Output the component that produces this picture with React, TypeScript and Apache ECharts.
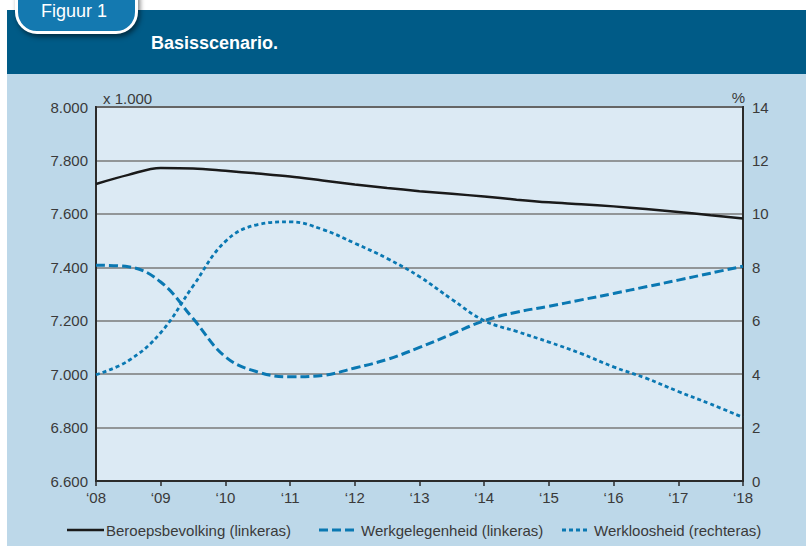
import React, { useEffect, useRef } from "react";
import * as echarts from "echarts";

const years = [2008, 2008.5, 2009, 2009.5, 2010, 2010.5, 2011, 2011.5, 2012, 2012.5, 2013, 2013.5, 2014, 2014.5, 2015, 2015.5, 2016, 2016.5, 2017, 2017.5, 2018];
const beroepsbevolking = [7712, 7746, 7772, 7770, 7761, 7751, 7740, 7725, 7710, 7697, 7685, 7675, 7665, 7653, 7643, 7636, 7628, 7618, 7607, 7595, 7583];
const werkgelegenheid = [7408, 7402, 7345, 7208, 7065, 7008, 6990, 6995, 7023, 7055, 7100, 7150, 7200, 7232, 7254, 7278, 7302, 7327, 7352, 7378, 7404];
const werkloosheid = [3.98, 4.5, 5.55, 7.3, 8.97, 9.6, 9.7, 9.42, 8.9, 8.33, 7.65, 6.8, 6.0, 5.6, 5.2, 4.77, 4.27, 3.85, 3.35, 2.88, 2.38];
const leftTicks = [6600, 8000, 200];
const rightTicks = [0, 14, 2];
const seriesNames = ["Beroepsbevolking (linkeras)", "Werkgelegenheid (linkeras)", "Werkloosheid (rechteras)"];

const FONT = '"Liberation Sans", Arial, sans-serif';
const BLUE = "#0a78b2";
const TEXT = "#3a3a3a";

export default function App() {
  const ref = useRef<HTMLDivElement>(null);
  useEffect(() => {
    if (!ref.current) return;
    const chart = echarts.init(ref.current, null, { renderer: "svg" });
    const pairs = (vals: number[]) => years.map((x, i) => [x, vals[i]]);
    chart.setOption({
      animation: false,
      textStyle: { fontFamily: FONT },
      grid: {
        left: 96, right: 63, top: 107, bottom: 65,
        show: true, backgroundColor: "#dceaf4", borderColor: "#2b2b2b", borderWidth: 2,
      },
      xAxis: {
        type: "value", min: 2008, max: 2018, interval: 1,
        axisLine: { show: true, lineStyle: { color: "#2b2b2b", width: 2 } },
        axisTick: { show: true, inside: false, length: 5, lineStyle: { color: "#2b2b2b", width: 1.5 } },
        splitLine: { show: false },
        axisLabel: {
          color: TEXT, fontSize: 15, fontFamily: FONT, margin: 9,
          formatter: (v: number) => "\u2018" + String(Math.round(v)).slice(2),
        },
      },
      yAxis: [
        {
          type: "value", min: leftTicks[0], max: leftTicks[1], interval: leftTicks[2],
          axisLine: { show: true, lineStyle: { color: "#2b2b2b", width: 2 } },
          axisTick: { show: false },
          splitLine: { show: true, lineStyle: { color: "#7a7a7a", width: 1.5 } },
          axisLabel: {
            color: TEXT, fontSize: 15, fontFamily: FONT, margin: 8,
            formatter: (v: number) => (v / 1000).toFixed(3),
          },
        },
        {
          type: "value", min: rightTicks[0], max: rightTicks[1], interval: rightTicks[2],
          position: "right",
          axisLine: { show: true, lineStyle: { color: "#2b2b2b", width: 2 } },
          axisTick: { show: false },
          splitLine: { show: false },
          axisLabel: { color: TEXT, fontSize: 15, fontFamily: FONT, margin: 9 },
        },
      ],
      series: [
        {
          name: seriesNames[0], type: "line", yAxisIndex: 0, smooth: 0.35, showSymbol: false,
          data: pairs(beroepsbevolking), lineStyle: { color: "#1a1a1a", width: 2.5 }, z: 5,
        },
        {
          name: seriesNames[1], type: "line", yAxisIndex: 0, smooth: 0.4, showSymbol: false,
          data: pairs(werkgelegenheid), lineStyle: { color: BLUE, width: 3, type: [9, 4] }, z: 4,
        },
        {
          name: seriesNames[2], type: "line", yAxisIndex: 1, smooth: 0.4, showSymbol: false,
          data: pairs(werkloosheid), lineStyle: { color: BLUE, width: 2.8, type: [4, 3] }, z: 3,
        },
      ],
      graphic: [
        { type: "text", x: 41, y: 11, style: { text: "Figuur 1", fill: "#ffffff", fontSize: 18, fontFamily: FONT, verticalAlign: "middle" } },
        { type: "text", x: 151, y: 43, style: { text: "Basisscenario.", fill: "#ffffff", fontSize: 18, fontWeight: "bold", fontFamily: FONT, verticalAlign: "middle" } },
        { type: "text", x: 103, y: 98, style: { text: "x 1.000", fill: TEXT, fontSize: 15, fontFamily: FONT, verticalAlign: "middle" } },
        { type: "text", x: 745, y: 97, style: { text: "%", fill: TEXT, fontSize: 15, fontFamily: FONT, align: "right", verticalAlign: "middle" } },
        { type: "line", shape: { x1: 67, y1: 530, x2: 104, y2: 530 }, style: { stroke: "#1a1a1a", lineWidth: 2.5 } },
        { type: "text", x: 106, y: 530, style: { text: seriesNames[0], fill: TEXT, fontSize: 15, fontFamily: FONT, verticalAlign: "middle" } },
        { type: "line", shape: { x1: 319, y1: 530, x2: 356, y2: 530 }, style: { stroke: BLUE, lineWidth: 3, lineDash: [9, 4] } },
        { type: "text", x: 361, y: 530, style: { text: seriesNames[1], fill: TEXT, fontSize: 15, fontFamily: FONT, verticalAlign: "middle" } },
        { type: "line", shape: { x1: 562, y1: 530, x2: 590, y2: 530 }, style: { stroke: BLUE, lineWidth: 2.8, lineDash: [4, 3] } },
        { type: "text", x: 594, y: 530, style: { text: seriesNames[2], fill: TEXT, fontSize: 15, fontFamily: FONT, verticalAlign: "middle" } },
      ],
    });
    return () => chart.dispose();
  }, []);

  return (
    <div style={{ position: "absolute", left: 0, top: 0, width: 806, height: 546, background: "#ffffff", overflow: "hidden" }}>
      <div style={{ position: "absolute", left: 7, top: 10, width: 799, height: 64, background: "#005b87" }} />
      <div style={{ position: "absolute", left: 7, top: 74, width: 799, height: 472, background: "#bdd8e9" }} />
      <div
        style={{
          position: "absolute", left: 15, top: -25, width: 123, height: 59, boxSizing: "border-box",
          borderRadius: 22, border: "3px solid #ffffff", background: "#1479b0",
          boxShadow: "2px 3px 5px rgba(0,0,0,0.5)",
        }}
      />
      <div ref={ref} style={{ position: "absolute", left: 0, top: 0, width: 806, height: 546 }} />
    </div>
  );
}
